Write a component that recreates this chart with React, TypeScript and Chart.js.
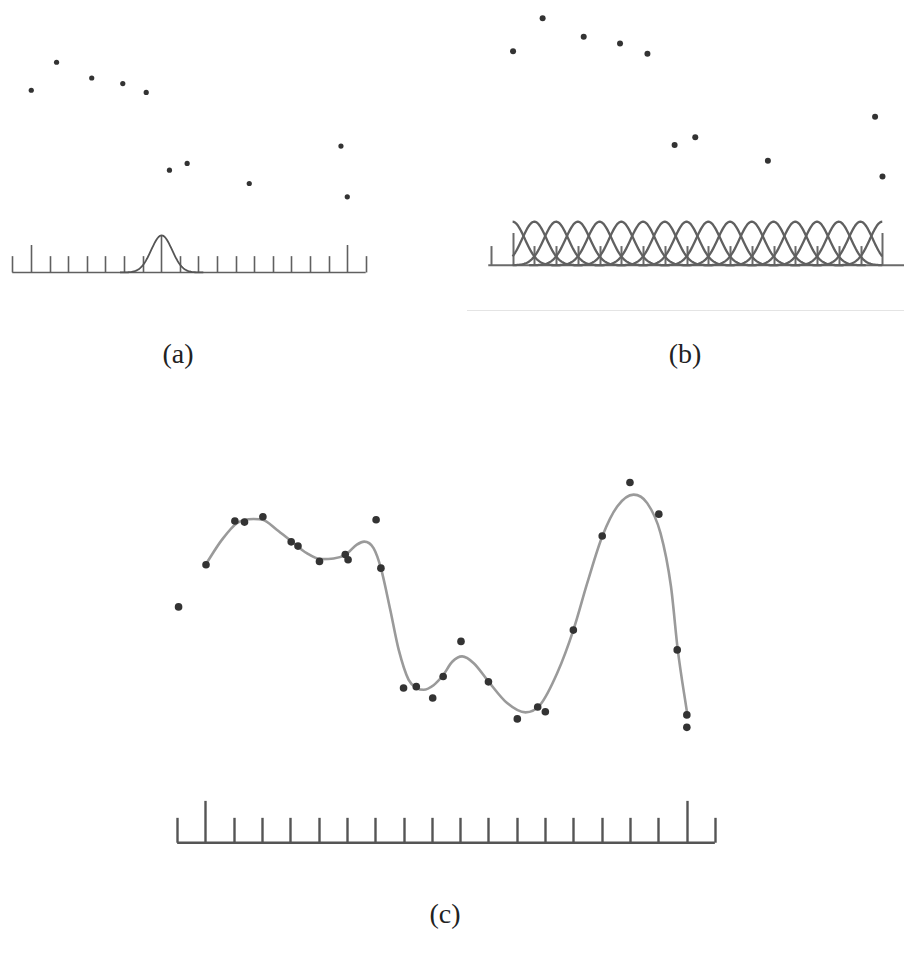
import React, { useEffect, useRef } from "react";
import { Chart, registerables } from "chart.js";

Chart.register(...registerables);

// ---- data (x in tick units, y in the same units) ----
const POINT_X = [0.05, 1.02, 2.04, 2.38, 3.03, 4.03, 4.27, 5.03, 5.94, 6.04, 7.03, 7.2, 8.0, 8.45, 9.03, 9.4, 10.03, 11.0, 12.02, 12.74, 13.01, 14.0, 15.02, 16.0, 17.02, 17.67, 18.01, 18.01];
const POINT_Y = [8.34, 9.83, 11.38, 11.34, 11.53, 10.64, 10.49, 9.95, 10.19, 10.01, 11.42, 9.71, 5.47, 5.52, 5.12, 5.88, 7.12, 5.69, 4.38, 4.8, 4.63, 7.52, 10.85, 12.74, 11.62, 6.82, 4.52, 4.08];
// points shown in panels (a) and (b)
const SUBSET = [1, 3, 6, 8, 11, 13, 15, 19, 25, 27];

// fitted curve of panel (c)
const CURVE_X = [1.0, 1.58, 2.11, 2.7, 3.03, 3.52, 4.05, 4.58, 5.06, 5.53, 5.94, 6.35, 6.61, 6.94, 7.2, 7.53, 7.83, 8.18, 8.47, 8.71, 9.06, 9.4, 9.72, 10.07, 10.48, 11.01, 11.66, 12.31, 12.83, 13.43, 14.0, 14.49, 15.02, 15.55, 16.13, 16.61, 17.08, 17.45, 17.69, 18.03];
const CURVE_Y = [9.83, 10.71, 11.3, 11.45, 11.42, 11.07, 10.65, 10.24, 10.03, 10.05, 10.18, 10.54, 10.65, 10.42, 9.71, 8.24, 6.82, 5.76, 5.47, 5.41, 5.57, 5.93, 6.4, 6.59, 6.35, 5.69, 4.94, 4.61, 4.88, 6.0, 7.52, 9.18, 10.83, 11.89, 12.31, 12.01, 10.95, 9.06, 6.82, 4.52];

const TICKS = [0, 1, 2, 3, 4, 5, 6, 7, 8, 9, 10, 11, 12, 13, 14, 15, 16, 17, 18, 19];
const TALL_TICKS = [1, 18];
const KERNEL_A_CENTERS = [8.03];
const KERNEL_B_CENTERS = [1, 2, 3, 4, 5, 6, 7, 8, 9, 10, 11, 12, 13, 14, 15, 16, 17, 18];
const KERNEL_SIGMA = 0.56;
const KERNEL_HEIGHT = 2.0;
const SHORT_TICK = 0.88;
const TALL_TICK = 1.48;

type PanelCfg = {
  left: number; top: number; width: number; height: number;
  xMin: number; xMax: number; yMin: number; yMax: number;
  axisFrom: number; axisTo: number;
  axisColor: string; axisWidth: number;
  pointIdx: number[]; pointRadius: number;
  curve: boolean;
  kernels: number[]; kernelFrom: number; kernelTo: number; kernelWidth: number; kernelColor: string;
  centerLineAt?: number;
};

function Panel({ cfg }: { cfg: PanelCfg }) {
  const ref = useRef<HTMLCanvasElement>(null);
  useEffect(() => {
    if (!ref.current) return;
    const axisPlugin = {
      id: "axisTicks",
      beforeDatasetsDraw(chart: any) {
        const { ctx } = chart;
        const x = chart.scales.x;
        const y = chart.scales.y;
        const y0 = y.getPixelForValue(0);
        ctx.save();
        ctx.strokeStyle = cfg.axisColor;
        ctx.lineWidth = cfg.axisWidth;
        ctx.lineCap = "butt";
        ctx.beginPath();
        ctx.moveTo(x.getPixelForValue(cfg.axisFrom), y0);
        ctx.lineTo(x.getPixelForValue(cfg.axisTo), y0);
        ctx.stroke();
        for (const t of TICKS) {
          if (t < cfg.xMin || t >= cfg.xMax) continue;
          let h = TALL_TICKS.includes(t) ? TALL_TICK : SHORT_TICK;
          if (cfg.centerLineAt !== undefined && Math.abs(t - cfg.centerLineAt) < 0.1) h = KERNEL_HEIGHT;
          const px = Math.round(x.getPixelForValue(t)) + 0.5;
          ctx.beginPath();
          ctx.moveTo(px, y0);
          ctx.lineTo(px, y.getPixelForValue(h));
          ctx.stroke();
        }
        ctx.strokeStyle = cfg.kernelColor;
        ctx.lineWidth = cfg.kernelWidth;
        ctx.lineJoin = "round";
        for (const c of cfg.kernels) {
          const lo = Math.max(cfg.kernelFrom, c - 4 * KERNEL_SIGMA);
          const hi = Math.min(cfg.kernelTo, c + 4 * KERNEL_SIGMA);
          ctx.beginPath();
          const n = 80;
          for (let i = 0; i <= n; i++) {
            const xv = lo + ((hi - lo) * i) / n;
            const yv = KERNEL_HEIGHT * Math.exp(-((xv - c) ** 2) / (2 * KERNEL_SIGMA * KERNEL_SIGMA));
            const px = x.getPixelForValue(xv);
            const py = y.getPixelForValue(yv);
            if (i === 0) ctx.moveTo(px, py); else ctx.lineTo(px, py);
          }
          ctx.stroke();
        }
        ctx.restore();
      },
    };
    const datasets: any[] = [
      {
        data: cfg.pointIdx.map((i) => ({ x: POINT_X[i], y: POINT_Y[i] })),
        pointRadius: cfg.pointRadius,
        pointBackgroundColor: "#333333",
        pointBorderWidth: 0,
        showLine: false,
        clip: false,
        order: 0,
      },
    ];
    if (cfg.curve) {
      datasets.push({
        data: CURVE_X.map((v, i) => ({ x: v, y: CURVE_Y[i] })),
        showLine: true,
        borderColor: "#9a9a9a",
        borderWidth: 2.6,
        pointRadius: 0,
        cubicInterpolationMode: "monotone",
        clip: false,
        order: 1,
      });
    }
    const chart = new Chart(ref.current, {
      type: "scatter",
      data: { datasets },
      options: {
        animation: false,
        responsive: false,
        devicePixelRatio: 1,
        layout: { padding: 0, autoPadding: false },
        events: [],
        scales: {
          x: { type: "linear", min: cfg.xMin, max: cfg.xMax, display: false },
          y: { type: "linear", min: cfg.yMin, max: cfg.yMax, display: false },
        },
        plugins: { legend: { display: false }, tooltip: { enabled: false } },
      } as any,
      plugins: [axisPlugin],
    });
    return () => chart.destroy();
  }, [cfg]);
  return (
    <canvas
      ref={ref}
      width={cfg.width}
      height={cfg.height}
      style={{ position: "absolute", left: cfg.left, top: cfg.top, width: cfg.width, height: cfg.height }}
    />
  );
}

const PANEL_A: PanelCfg = {
  left: 3, top: 50, width: 372, height: 241,
  xMin: -0.5, xMax: 19.5, yMin: -1, yMax: 12,
  axisFrom: 0, axisTo: 19, axisColor: "#606060", axisWidth: 1.6,
  pointIdx: SUBSET, pointRadius: 2.6, curve: false,
  kernels: KERNEL_A_CENTERS, kernelFrom: -1, kernelTo: 20, kernelWidth: 1.8, kernelColor: "#555555",
  centerLineAt: 8,
};
const PANEL_B: PanelCfg = {
  left: 480, top: 4, width: 424, height: 283,
  xMin: -0.5, xMax: 19.0, yMin: -1, yMax: 12,
  axisFrom: -0.12, axisTo: 19.0, axisColor: "#6a6a6a", axisWidth: 2,
  pointIdx: SUBSET, pointRadius: 3, curve: false,
  kernels: KERNEL_B_CENTERS, kernelFrom: 1, kernelTo: 18, kernelWidth: 2.3, kernelColor: "#606060",
};
const PANEL_C: PanelCfg = {
  left: 163, top: 461, width: 566, height: 410,
  xMin: -0.5, xMax: 19.5, yMin: -1, yMax: 13.5,
  axisFrom: 0, axisTo: 19, axisColor: "#555555", axisWidth: 2.4,
  pointIdx: POINT_X.map((_, i) => i), pointRadius: 3.8, curve: true,
  kernels: [], kernelFrom: 0, kernelTo: 0, kernelWidth: 2, kernelColor: "#555555",
};

const labelStyle = (x: number, y: number): React.CSSProperties => ({
  position: "absolute",
  left: x,
  top: y,
  transform: "translate(-50%, -50%)",
  fontFamily: "'Liberation Serif', 'DejaVu Serif', serif",
  fontSize: 28,
  color: "#222",
  whiteSpace: "nowrap",
  lineHeight: 1,
});

export default function App() {
  return (
    <div style={{ position: "absolute", left: 0, top: 0, width: 904, height: 955, background: "#fff", overflow: "hidden" }}>
      <Panel cfg={PANEL_A} />
      <Panel cfg={PANEL_B} />
      <Panel cfg={PANEL_C} />
      <div style={{ position: "absolute", left: 467, top: 310, width: 437, height: 1, background: "#e4e4e4" }} />
      <div style={labelStyle(178, 354)}>(a)</div>
      <div style={labelStyle(685, 354)}>(b)</div>
      <div style={labelStyle(445, 914)}>(c)</div>
    </div>
  );
}
